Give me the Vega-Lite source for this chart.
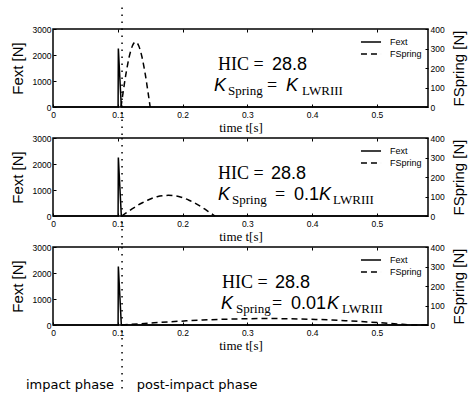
{
  "$schema": "https://vega.github.io/schema/vega-lite/v6.json",
  "padding": {"left": 9, "top": 5, "right": 2, "bottom": 5},
  "bounds": "flush",
  "spacing": 31,
  "datasets": {
    "f": [
      {"p": 1, "s": "e", "t": 0, "F": 0}, {"p": 1, "s": "e", "t": 0.1005, "F": 0}, {"p": 1, "s": "e", "t": 0.1009, "F": 2250}, {"p": 1, "s": "e", "t": 0.1055, "F": 0}, {"p": 1, "s": "e", "t": 0.579, "F": 0},
      {"p": 2, "s": "e", "t": 0, "F": 0}, {"p": 2, "s": "e", "t": 0.1005, "F": 0}, {"p": 2, "s": "e", "t": 0.1009, "F": 2250}, {"p": 2, "s": "e", "t": 0.1055, "F": 0}, {"p": 2, "s": "e", "t": 0.579, "F": 0},
      {"p": 3, "s": "e", "t": 0, "F": 0}, {"p": 3, "s": "e", "t": 0.1005, "F": 0}, {"p": 3, "s": "e", "t": 0.1009, "F": 2250}, {"p": 3, "s": "e", "t": 0.1055, "F": 0}, {"p": 3, "s": "e", "t": 0.579, "F": 0},
      {"p": 1, "s": "s", "t": 0.105, "F": 0}, {"p": 1, "s": "s", "t": 0.1075, "F": 58}, {"p": 1, "s": "s", "t": 0.11, "F": 114}, {"p": 1, "s": "s", "t": 0.1125, "F": 167}, {"p": 1, "s": "s", "t": 0.115, "F": 214}, {"p": 1, "s": "s", "t": 0.1175, "F": 255}, {"p": 1, "s": "s", "t": 0.12, "F": 288}, {"p": 1, "s": "s", "t": 0.1225, "F": 313}, {"p": 1, "s": "s", "t": 0.125, "F": 328}, {"p": 1, "s": "s", "t": 0.1275, "F": 333}, {"p": 1, "s": "s", "t": 0.13, "F": 328}, {"p": 1, "s": "s", "t": 0.1325, "F": 313}, {"p": 1, "s": "s", "t": 0.135, "F": 288}, {"p": 1, "s": "s", "t": 0.1375, "F": 255}, {"p": 1, "s": "s", "t": 0.14, "F": 214}, {"p": 1, "s": "s", "t": 0.1425, "F": 167}, {"p": 1, "s": "s", "t": 0.145, "F": 114}, {"p": 1, "s": "s", "t": 0.1475, "F": 58}, {"p": 1, "s": "s", "t": 0.15, "F": 0},
      {"p": 2, "s": "s", "t": 0.106, "F": 0}, {"p": 2, "s": "s", "t": 0.114, "F": 18}, {"p": 2, "s": "s", "t": 0.122, "F": 36}, {"p": 2, "s": "s", "t": 0.13, "F": 53}, {"p": 2, "s": "s", "t": 0.138, "F": 68}, {"p": 2, "s": "s", "t": 0.146, "F": 81}, {"p": 2, "s": "s", "t": 0.154, "F": 92}, {"p": 2, "s": "s", "t": 0.162, "F": 100}, {"p": 2, "s": "s", "t": 0.17, "F": 104}, {"p": 2, "s": "s", "t": 0.178, "F": 106}, {"p": 2, "s": "s", "t": 0.186, "F": 104}, {"p": 2, "s": "s", "t": 0.194, "F": 100}, {"p": 2, "s": "s", "t": 0.202, "F": 92}, {"p": 2, "s": "s", "t": 0.21, "F": 81}, {"p": 2, "s": "s", "t": 0.218, "F": 68}, {"p": 2, "s": "s", "t": 0.226, "F": 53}, {"p": 2, "s": "s", "t": 0.234, "F": 36}, {"p": 2, "s": "s", "t": 0.242, "F": 18}, {"p": 2, "s": "s", "t": 0.25, "F": 0},
      {"p": 3, "s": "s", "t": 0.106, "F": 0}, {"p": 3, "s": "s", "t": 0.131, "F": 5.7}, {"p": 3, "s": "s", "t": 0.156, "F": 11.3}, {"p": 3, "s": "s", "t": 0.181, "F": 16.5}, {"p": 3, "s": "s", "t": 0.206, "F": 21.2}, {"p": 3, "s": "s", "t": 0.231, "F": 25.3}, {"p": 3, "s": "s", "t": 0.256, "F": 28.6}, {"p": 3, "s": "s", "t": 0.281, "F": 31}, {"p": 3, "s": "s", "t": 0.306, "F": 32.5}, {"p": 3, "s": "s", "t": 0.331, "F": 33}, {"p": 3, "s": "s", "t": 0.356, "F": 32.5}, {"p": 3, "s": "s", "t": 0.381, "F": 31}, {"p": 3, "s": "s", "t": 0.406, "F": 28.6}, {"p": 3, "s": "s", "t": 0.431, "F": 25.3}, {"p": 3, "s": "s", "t": 0.456, "F": 21.2}, {"p": 3, "s": "s", "t": 0.481, "F": 16.5}, {"p": 3, "s": "s", "t": 0.506, "F": 11.3}, {"p": 3, "s": "s", "t": 0.531, "F": 5.7}, {"p": 3, "s": "s", "t": 0.556, "F": 0}, {"p": 3, "s": "s", "t": 0.579, "F": 0}
    ]
  },
  "config": {
    "view": {"stroke": "black", "strokeWidth": 1.5},
    "axis": {"labelFont": "Liberation Sans", "labelFontSize": 8.5, "labelColor": "black", "tickColor": "black", "tickSize": -3, "tickWidth": 1, "labelPadding": 5, "domain": false, "grid": false, "labelFlush": false, "labelOverlap": false, "titleColor": "black", "titleFontWeight": "normal"},
    "axisX": {"titleFont": "Liberation Serif", "titleFontSize": 13, "titlePadding": 3, "labelPadding": 6},
    "axisY": {"titleFont": "Liberation Sans", "titleFontSize": 15, "titlePadding": 7},
    "legend": {"orient": "top-right", "offset": 6, "padding": 0, "symbolType": "M-1.67,0H1.67", "symbolSize": 144, "symbolStrokeWidth": 1.5, "symbolStrokeColor": "black", "labelFont": "Liberation Sans", "labelFontSize": 9, "labelColor": "black", "rowPadding": 0, "labelOffset": 12},
    "text": {"color": "black"}
  },
  "resolve": {"scale": {"strokeDash": "independent"}, "legend": {"strokeDash": "independent"}},
  "vconcat": [
    {
      "width": 375, "height": 78,
      "resolve": {"scale": {"y": "independent"}, "axis": {"x": "independent", "y": "independent"}},
      "layer": [
        {"data": {"name": "f"}, "transform": [{"filter": "datum.p == 1 && datum.s == 'e'"}],
         "mark": {"type": "line", "color": "black", "strokeWidth": 1.5},
         "encoding": {
           "x": {"field": "t", "type": "quantitative", "scale": {"domain": [0, 0.579], "nice": false, "zero": false}, "axis": {"title": "time t[s]", "values": [0, 0.1, 0.2, 0.3, 0.4, 0.5], "format": "~g", "labelOverlap": false}},
           "y": {"field": "F", "type": "quantitative", "scale": {"domain": [0, 3000], "nice": false}, "axis": {"orient": "left", "title": "Fext [N]", "values": [0, 1000, 2000, 3000], "format": "d", "labelOverlap": false}},
           "strokeDash": {"datum": "Fext", "type": "nominal", "scale": {"domain": ["Fext", "FSpring"], "range": [[1, 0], [6, 4]]}, "legend": {"title": null}}
         }},
        {"data": {"name": "f"}, "transform": [{"filter": "datum.p == 1 && datum.s == 's'"}],
         "mark": {"type": "line", "color": "black", "strokeWidth": 1.5, "interpolate": "monotone"},
         "encoding": {
           "x": {"field": "t", "type": "quantitative", "scale": {"domain": [0, 0.579], "nice": false, "zero": false}, "axis": {"orient": "top", "labels": false, "title": null, "values": [0.1, 0.2, 0.3, 0.4, 0.5]}},
           "y": {"field": "F", "type": "quantitative", "scale": {"domain": [0, 400], "nice": false}, "axis": {"orient": "right", "title": "FSpring [N]", "values": [0, 100, 200, 300, 400], "format": "d", "titleAngle": 270, "titleBaseline": "top", "labelOverlap": false}},
           "strokeDash": {"datum": "FSpring", "type": "nominal"}
         }},
        {"data": {"values": [{}]}, "mark": {"type": "rule", "color": "black", "strokeWidth": 1.5, "strokeDash": [1.5, 5.5], "clip": false},
         "encoding": {"x": {"datum": 0.1066, "type": "quantitative", "axis": null}, "y": {"datum": 3830, "type": "quantitative", "scale": {"domain": [0, 3000], "nice": false}, "axis": null}, "y2": {"datum": -1185}}},
        {"data": {"values": [{}]}, "mark": {"type": "text", "text": "HIC =", "font": "Liberation Serif", "fontSize": 18, "align": "left", "baseline": "alphabetic"}, "encoding": {"x": {"datum": 0.2548, "type": "quantitative", "axis": null}, "y": {"datum": 1438, "type": "quantitative", "scale": {"domain": [0, 3000], "nice": false}, "axis": null}}},
        {"data": {"values": [{}]}, "mark": {"type": "text", "text": "28.8", "font": "Liberation Sans", "fontSize": 18, "align": "left", "baseline": "alphabetic"}, "encoding": {"x": {"datum": 0.3381, "type": "quantitative", "axis": null}, "y": {"datum": 1438, "type": "quantitative", "scale": {"domain": [0, 3000], "nice": false}, "axis": null}}},
        {"data": {"values": [{}]}, "mark": {"type": "text", "text": "K", "font": "Liberation Sans", "fontStyle": "italic", "fontSize": 18, "align": "left", "baseline": "alphabetic"}, "encoding": {"x": {"datum": 0.2486, "type": "quantitative", "axis": null}, "y": {"datum": 604, "type": "quantitative", "scale": {"domain": [0, 3000], "nice": false}, "axis": null}}},
        {"data": {"values": [{}]}, "mark": {"type": "text", "text": "Spring", "font": "Liberation Serif", "fontSize": 13, "align": "left", "baseline": "alphabetic"}, "encoding": {"x": {"datum": 0.2702, "type": "quantitative", "axis": null}, "y": {"datum": 450, "type": "quantitative", "scale": {"domain": [0, 3000], "nice": false}, "axis": null}}},
        {"data": {"values": [{}]}, "mark": {"type": "text", "text": "=", "font": "Liberation Serif", "fontSize": 18, "align": "left", "baseline": "alphabetic"}, "encoding": {"x": {"datum": 0.3304, "type": "quantitative", "axis": null}, "y": {"datum": 604, "type": "quantitative", "scale": {"domain": [0, 3000], "nice": false}, "axis": null}}},
        {"data": {"values": [{}]}, "mark": {"type": "text", "text": "K", "font": "Liberation Sans", "fontStyle": "italic", "fontSize": 18, "align": "left", "baseline": "alphabetic"}, "encoding": {"x": {"datum": 0.3597, "type": "quantitative", "axis": null}, "y": {"datum": 604, "type": "quantitative", "scale": {"domain": [0, 3000], "nice": false}, "axis": null}}},
        {"data": {"values": [{}]}, "mark": {"type": "text", "text": "LWRIII", "font": "Liberation Serif", "fontSize": 13, "align": "left", "baseline": "alphabetic"}, "encoding": {"x": {"datum": 0.3844, "type": "quantitative", "axis": null}, "y": {"datum": 450, "type": "quantitative", "scale": {"domain": [0, 3000], "nice": false}, "axis": null}}}
      ]
    },
    {
      "width": 375, "height": 78,
      "resolve": {"scale": {"y": "independent"}, "axis": {"x": "independent", "y": "independent"}},
      "layer": [
        {"data": {"name": "f"}, "transform": [{"filter": "datum.p == 2 && datum.s == 'e'"}],
         "mark": {"type": "line", "color": "black", "strokeWidth": 1.5},
         "encoding": {
           "x": {"field": "t", "type": "quantitative", "scale": {"domain": [0, 0.579], "nice": false, "zero": false}, "axis": {"title": "time t[s]", "values": [0, 0.1, 0.2, 0.3, 0.4, 0.5], "format": "~g", "labelOverlap": false}},
           "y": {"field": "F", "type": "quantitative", "scale": {"domain": [0, 3000], "nice": false}, "axis": {"orient": "left", "title": "Fext [N]", "values": [0, 1000, 2000, 3000], "format": "d", "labelOverlap": false}},
           "strokeDash": {"datum": "Fext", "type": "nominal", "scale": {"domain": ["Fext", "FSpring"], "range": [[1, 0], [6, 4]]}, "legend": {"title": null}}
         }},
        {"data": {"name": "f"}, "transform": [{"filter": "datum.p == 2 && datum.s == 's'"}],
         "mark": {"type": "line", "color": "black", "strokeWidth": 1.5, "interpolate": "monotone"},
         "encoding": {
           "x": {"field": "t", "type": "quantitative", "scale": {"domain": [0, 0.579], "nice": false, "zero": false}, "axis": {"orient": "top", "labels": false, "title": null, "values": [0.1, 0.2, 0.3, 0.4, 0.5]}},
           "y": {"field": "F", "type": "quantitative", "scale": {"domain": [0, 400], "nice": false}, "axis": {"orient": "right", "title": "FSpring [N]", "values": [0, 100, 200, 300, 400], "format": "d", "titleAngle": 270, "titleBaseline": "top", "labelOverlap": false}},
           "strokeDash": {"datum": "FSpring", "type": "nominal"}
         }},
        {"data": {"values": [{}]}, "mark": {"type": "rule", "color": "black", "strokeWidth": 1.5, "strokeDash": [1.5, 5.5], "clip": false},
         "encoding": {"x": {"datum": 0.1066, "type": "quantitative", "axis": null}, "y": {"datum": 3000, "type": "quantitative", "scale": {"domain": [0, 3000], "nice": false}, "axis": null}, "y2": {"datum": -1185}}},
        {"data": {"values": [{}]}, "mark": {"type": "text", "text": "HIC =", "font": "Liberation Serif", "fontSize": 18, "align": "left", "baseline": "alphabetic"}, "encoding": {"x": {"datum": 0.2548, "type": "quantitative", "axis": null}, "y": {"datum": 1438, "type": "quantitative", "scale": {"domain": [0, 3000], "nice": false}, "axis": null}}},
        {"data": {"values": [{}]}, "mark": {"type": "text", "text": "28.8", "font": "Liberation Sans", "fontSize": 18, "align": "left", "baseline": "alphabetic"}, "encoding": {"x": {"datum": 0.3366, "type": "quantitative", "axis": null}, "y": {"datum": 1438, "type": "quantitative", "scale": {"domain": [0, 3000], "nice": false}, "axis": null}}},
        {"data": {"values": [{}]}, "mark": {"type": "text", "text": "K", "font": "Liberation Sans", "fontStyle": "italic", "fontSize": 18, "align": "left", "baseline": "alphabetic"}, "encoding": {"x": {"datum": 0.2548, "type": "quantitative", "axis": null}, "y": {"datum": 604, "type": "quantitative", "scale": {"domain": [0, 3000], "nice": false}, "axis": null}}},
        {"data": {"values": [{}]}, "mark": {"type": "text", "text": "Spring", "font": "Liberation Serif", "fontSize": 13, "align": "left", "baseline": "alphabetic"}, "encoding": {"x": {"datum": 0.2764, "type": "quantitative", "axis": null}, "y": {"datum": 450, "type": "quantitative", "scale": {"domain": [0, 3000], "nice": false}, "axis": null}}},
        {"data": {"values": [{}]}, "mark": {"type": "text", "text": "=", "font": "Liberation Serif", "fontSize": 18, "align": "left", "baseline": "alphabetic"}, "encoding": {"x": {"datum": 0.3428, "type": "quantitative", "axis": null}, "y": {"datum": 604, "type": "quantitative", "scale": {"domain": [0, 3000], "nice": false}, "axis": null}}},
        {"data": {"values": [{}]}, "mark": {"type": "text", "text": "0.1", "font": "Liberation Sans", "fontSize": 18, "align": "left", "baseline": "alphabetic"}, "encoding": {"x": {"datum": 0.3721, "type": "quantitative", "axis": null}, "y": {"datum": 604, "type": "quantitative", "scale": {"domain": [0, 3000], "nice": false}, "axis": null}}},
        {"data": {"values": [{}]}, "mark": {"type": "text", "text": "K", "font": "Liberation Sans", "fontStyle": "italic", "fontSize": 18, "align": "left", "baseline": "alphabetic"}, "encoding": {"x": {"datum": 0.4107, "type": "quantitative", "axis": null}, "y": {"datum": 604, "type": "quantitative", "scale": {"domain": [0, 3000], "nice": false}, "axis": null}}},
        {"data": {"values": [{}]}, "mark": {"type": "text", "text": "LWRIII", "font": "Liberation Serif", "fontSize": 13, "align": "left", "baseline": "alphabetic"}, "encoding": {"x": {"datum": 0.4323, "type": "quantitative", "axis": null}, "y": {"datum": 450, "type": "quantitative", "scale": {"domain": [0, 3000], "nice": false}, "axis": null}}}
      ]
    },
    {
      "width": 375, "height": 78,
      "resolve": {"scale": {"y": "independent"}, "axis": {"x": "independent", "y": "independent"}},
      "layer": [
        {"data": {"name": "f"}, "transform": [{"filter": "datum.p == 3 && datum.s == 'e'"}],
         "mark": {"type": "line", "color": "black", "strokeWidth": 1.5},
         "encoding": {
           "x": {"field": "t", "type": "quantitative", "scale": {"domain": [0, 0.579], "nice": false, "zero": false}, "axis": {"title": "time t[s]", "values": [0, 0.1, 0.2, 0.3, 0.4, 0.5], "format": "~g", "labelOverlap": false}},
           "y": {"field": "F", "type": "quantitative", "scale": {"domain": [0, 3000], "nice": false}, "axis": {"orient": "left", "title": "Fext [N]", "values": [0, 1000, 2000, 3000], "format": "d", "labelOverlap": false}},
           "strokeDash": {"datum": "Fext", "type": "nominal", "scale": {"domain": ["Fext", "FSpring"], "range": [[1, 0], [6, 4]]}, "legend": {"title": null}}
         }},
        {"data": {"name": "f"}, "transform": [{"filter": "datum.p == 3 && datum.s == 's'"}],
         "mark": {"type": "line", "color": "black", "strokeWidth": 1.5, "interpolate": "monotone"},
         "encoding": {
           "x": {"field": "t", "type": "quantitative", "scale": {"domain": [0, 0.579], "nice": false, "zero": false}, "axis": {"orient": "top", "labels": false, "title": null, "values": [0.1, 0.2, 0.3, 0.4, 0.5]}},
           "y": {"field": "F", "type": "quantitative", "scale": {"domain": [0, 400], "nice": false}, "axis": {"orient": "right", "title": "FSpring [N]", "values": [0, 100, 200, 300, 400], "format": "d", "titleAngle": 270, "titleBaseline": "top", "labelOverlap": false}},
           "strokeDash": {"datum": "FSpring", "type": "nominal"}
         }},
        {"data": {"values": [{}]}, "mark": {"type": "rule", "color": "black", "strokeWidth": 1.5, "strokeDash": [1.5, 5.5], "clip": false},
         "encoding": {"x": {"datum": 0.1066, "type": "quantitative", "axis": null}, "y": {"datum": 3000, "type": "quantitative", "scale": {"domain": [0, 3000], "nice": false}, "axis": null}, "y2": {"datum": -2450}}},
        {"data": {"values": [{}]}, "mark": {"type": "text", "text": "impact phase", "font": "DejaVu Sans", "fontSize": 13, "align": "right", "baseline": "middle"}, "encoding": {"x": {"datum": 0.0942, "type": "quantitative", "axis": null}, "y": {"datum": -2300, "type": "quantitative", "scale": {"domain": [0, 3000], "nice": false}, "axis": null}}},
        {"data": {"values": [{}]}, "mark": {"type": "text", "text": "post-impact phase", "font": "DejaVu Sans", "fontSize": 13, "align": "left", "baseline": "middle"}, "encoding": {"x": {"datum": 0.1292, "type": "quantitative", "axis": null}, "y": {"datum": -2300, "type": "quantitative", "scale": {"domain": [0, 3000], "nice": false}, "axis": null}}},
        {"data": {"values": [{}]}, "mark": {"type": "text", "text": "HIC =", "font": "Liberation Serif", "fontSize": 18, "align": "left", "baseline": "alphabetic"}, "encoding": {"x": {"datum": 0.2609, "type": "quantitative", "axis": null}, "y": {"datum": 1438, "type": "quantitative", "scale": {"domain": [0, 3000], "nice": false}, "axis": null}}},
        {"data": {"values": [{}]}, "mark": {"type": "text", "text": "28.8", "font": "Liberation Sans", "fontSize": 18, "align": "left", "baseline": "alphabetic"}, "encoding": {"x": {"datum": 0.3428, "type": "quantitative", "axis": null}, "y": {"datum": 1438, "type": "quantitative", "scale": {"domain": [0, 3000], "nice": false}, "axis": null}}},
        {"data": {"values": [{}]}, "mark": {"type": "text", "text": "K", "font": "Liberation Sans", "fontStyle": "italic", "fontSize": 18, "align": "left", "baseline": "alphabetic"}, "encoding": {"x": {"datum": 0.2594, "type": "quantitative", "axis": null}, "y": {"datum": 604, "type": "quantitative", "scale": {"domain": [0, 3000], "nice": false}, "axis": null}}},
        {"data": {"values": [{}]}, "mark": {"type": "text", "text": "Spring", "font": "Liberation Serif", "fontSize": 13, "align": "left", "baseline": "alphabetic"}, "encoding": {"x": {"datum": 0.2825, "type": "quantitative", "axis": null}, "y": {"datum": 450, "type": "quantitative", "scale": {"domain": [0, 3000], "nice": false}, "axis": null}}},
        {"data": {"values": [{}]}, "mark": {"type": "text", "text": "=", "font": "Liberation Serif", "fontSize": 18, "align": "left", "baseline": "alphabetic"}, "encoding": {"x": {"datum": 0.3381, "type": "quantitative", "axis": null}, "y": {"datum": 604, "type": "quantitative", "scale": {"domain": [0, 3000], "nice": false}, "axis": null}}},
        {"data": {"values": [{}]}, "mark": {"type": "text", "text": "0.01", "font": "Liberation Sans", "fontSize": 18, "align": "left", "baseline": "alphabetic"}, "encoding": {"x": {"datum": 0.3675, "type": "quantitative", "axis": null}, "y": {"datum": 604, "type": "quantitative", "scale": {"domain": [0, 3000], "nice": false}, "axis": null}}},
        {"data": {"values": [{}]}, "mark": {"type": "text", "text": "K", "font": "Liberation Sans", "fontStyle": "italic", "fontSize": 18, "align": "left", "baseline": "alphabetic"}, "encoding": {"x": {"datum": 0.423, "type": "quantitative", "axis": null}, "y": {"datum": 604, "type": "quantitative", "scale": {"domain": [0, 3000], "nice": false}, "axis": null}}},
        {"data": {"values": [{}]}, "mark": {"type": "text", "text": "LWRIII", "font": "Liberation Serif", "fontSize": 13, "align": "left", "baseline": "alphabetic"}, "encoding": {"x": {"datum": 0.4462, "type": "quantitative", "axis": null}, "y": {"datum": 450, "type": "quantitative", "scale": {"domain": [0, 3000], "nice": false}, "axis": null}}}
      ]
    }
  ]
}
